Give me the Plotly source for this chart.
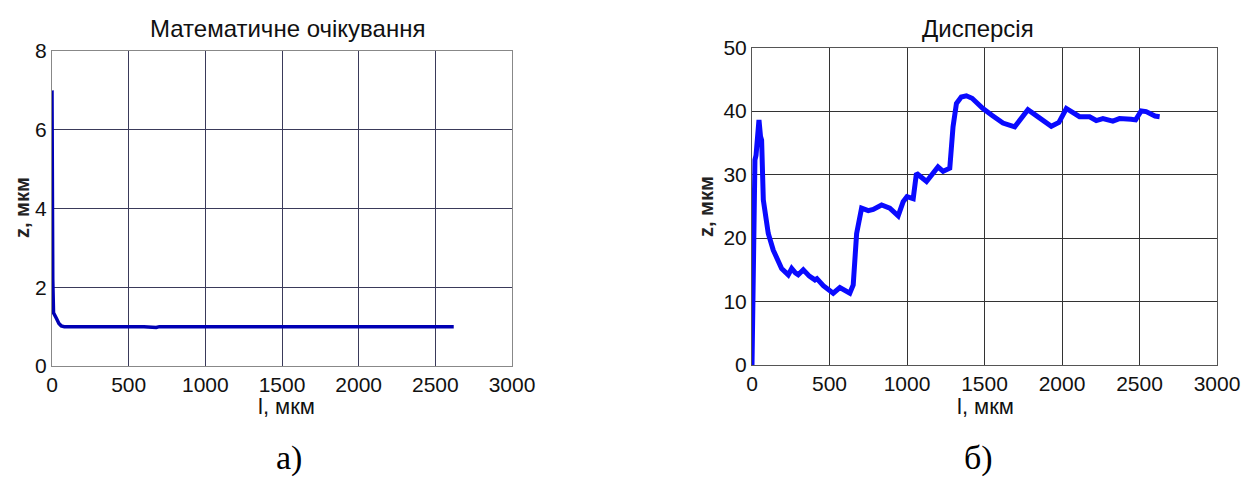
import plotly.graph_objects as go

# Left panel: mathematical expectation
l_mean = [0, 2, 5, 10, 20, 30, 45, 60, 80, 120, 200, 300, 320, 400, 600, 680, 700, 900, 1200, 1300, 1320, 1500, 1800, 2000, 2300, 2500, 2620]
z_mean = [7.0, 4.0, 2.2, 1.35, 1.25, 1.2, 1.08, 1.02, 1.0, 1.0, 1.0, 1.0, 1.02, 1.0, 1.0, 0.98, 1.0, 1.0, 1.0, 0.99, 1.0, 1.0, 1.0, 1.0, 1.0, 1.0, 1.0]

# Right panel: dispersion
l_disp = [0, 4, 12, 19, 26, 45, 55, 62, 73, 90, 105, 137, 170, 191, 234, 256, 280, 298, 331, 370, 406, 419, 460, 524, 567, 600, 631, 653, 675, 707, 750, 782, 836, 889, 943, 975, 1000, 1040, 1061, 1126, 1200, 1233, 1276, 1297, 1319, 1350, 1383, 1420, 1490, 1550, 1619, 1695, 1720, 1780, 1850, 1931, 1980, 2028, 2113, 2178, 2221, 2264, 2328, 2371, 2446, 2475, 2511, 2543, 2600, 2630]
z_disp = [0, 10.2, 25, 32.3, 33, 38.6, 36, 35.4, 26, 23.4, 20.7, 18.1, 16, 15.2, 14.2, 15.2, 14.5, 14.2, 15.0, 14.0, 13.4, 13.6, 12.5, 11.3, 12.2, 11.8, 11.3, 12.6, 20.7, 24.7, 24.3, 24.5, 25.2, 24.7, 23.5, 25.7, 26.5, 26.2, 30.2, 28.9, 31.2, 30.5, 31.0, 37.5, 41.2, 42.2, 42.4, 42.0, 40.4, 39.3, 38.1, 37.5, 38.3, 40.2, 39.0, 37.6, 38.2, 40.4, 39.1, 39.1, 38.5, 38.8, 38.4, 38.8, 38.7, 38.6, 40.0, 39.9, 39.2, 39.1]

x_ticks = [0, 500, 1000, 1500, 2000, 2500, 3000]
y_ticks_mean = [0, 2, 4, 6, 8]
y_ticks_disp = [0, 10, 20, 30, 40, 50]

W, H = 1243, 484
fig = go.Figure()

fig.add_trace(go.Scatter(x=l_mean, y=z_mean, mode="lines", xaxis="x", yaxis="y",
                         line=dict(color="#0000b4", width=3.5), showlegend=False))
fig.add_trace(go.Scatter(x=l_disp, y=z_disp, mode="lines", xaxis="x2", yaxis="y2",
                         line=dict(color="#0a0aff", width=5), showlegend=False))

tickfont = dict(family="Liberation Sans, Arial", size=21, color="#111")
common_x = dict(range=[0, 3000], tickvals=x_ticks, showgrid=True, zeroline=False,
                showline=True, mirror=True, ticks="", tickfont=tickfont, fixedrange=True,
                automargin=False)
common_y = dict(showgrid=True, zeroline=False, showline=True, mirror=True, ticks="",
                tickfont=tickfont, fixedrange=True, automargin=False)

fig.update_layout(
    width=W, height=H, margin=dict(l=0, r=0, t=0, b=0, pad=0, autoexpand=False),
    paper_bgcolor="white", plot_bgcolor="white", showlegend=False,
    xaxis=dict(domain=[52/W, 512/W], anchor="y", gridcolor="#3a3a5a", linecolor="#888", **common_x),
    yaxis=dict(domain=[1-366/H, 1-51/H], anchor="x", range=[0, 8], tickvals=y_ticks_mean,
               gridcolor="#3a3a5a", linecolor="#888", **common_y),
    xaxis2=dict(domain=[752/W, 1217/W], anchor="y2", gridcolor="#333", linecolor="#555", **common_x),
    yaxis2=dict(domain=[1-365/H, 1-47.5/H], anchor="x2", range=[0, 50], tickvals=y_ticks_disp,
                gridcolor="#333", linecolor="#555", **common_y),
)

labfont = dict(family="Liberation Sans, Arial", size=22, color="#111")
ylabfont = dict(family="Liberation Sans, Arial", size=20, color="#222")
titlefont = dict(family="Liberation Sans, Arial", size=24, color="#111")
serif = dict(family="Liberation Serif, Times New Roman", size=34, color="#000")
ann = [
    dict(text="Математичне очікування", x=287/W, y=1-28/H, font=titlefont),
    dict(text="Дисперсія", x=978/W, y=1-28/H, font=titlefont),
    dict(text="l, мкм", x=286/W, y=1-406/H, font=labfont),
    dict(text="l, мкм", x=985/W, y=1-406/H, font=labfont),
    dict(text="<b>z, мкм</b>", x=22/W, y=1-208/H, font=ylabfont, textangle=-90),
    dict(text="<b>z, мкм</b>", x=706/W, y=1-207/H, font=ylabfont, textangle=-90),
    dict(text="а)", x=289/W, y=1-458/H, font=serif),
    dict(text="б)", x=978/W, y=1-458/H, font=serif),
]
for a in ann:
    a.update(xref="paper", yref="paper", showarrow=False, xanchor="center", yanchor="middle")
fig.update_layout(annotations=ann)

fig.write_html("out.html")
